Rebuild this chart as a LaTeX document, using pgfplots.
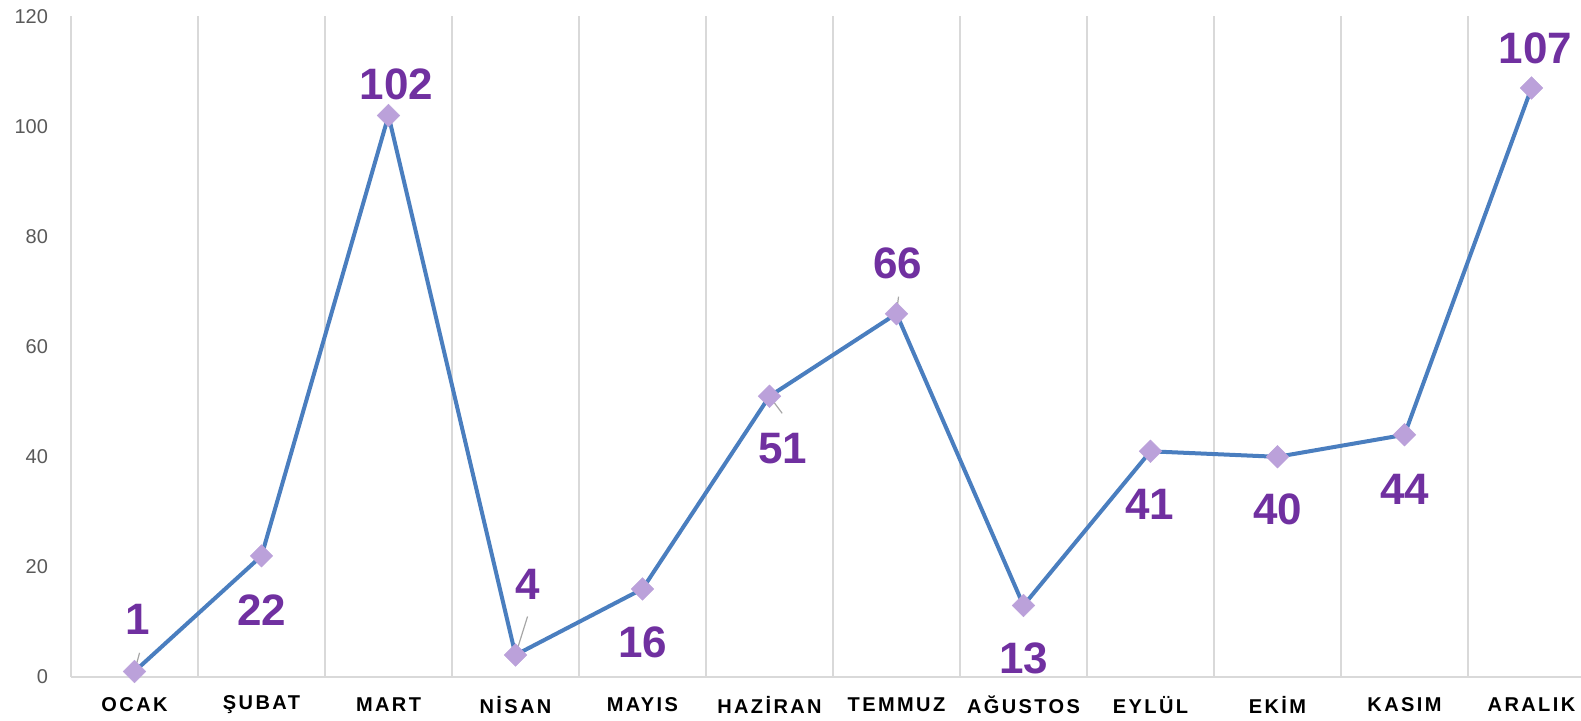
\documentclass[border=0pt]{standalone}
\usepackage{pgfplots}
\pgfplotsset{compat=1.18}
\usepackage{pgfplotstable}
\usepackage{fontspec}
\setmainfont{Liberation Sans}
\newfontfamily\catfont[LetterSpace=12]{Liberation Sans}
\definecolor{lineblue}{HTML}{4A7EBF}
\definecolor{lblpurple}{HTML}{7030A0}
\definecolor{mk}{HTML}{BBA1DA}
\definecolor{gridgray}{HTML}{D9D9D9}
\definecolor{tickgray}{HTML}{595959}
\definecolor{leader}{HTML}{A6A6A6}

\pgfplotstableread{
x y dx dy
0 1 1.5 26
1 22 0 -27
2 102 4 15.5
3 4 6 35.5
4 16 0 -26.5
5 51 6.5 -26
6 66 0.5 25
7 13 0 -26.5
8 41 -0.5 -26.5
9 40 0 -26.5
10 44 0 -27.5
11 107 2 20
}\data

\begin{document}
\begin{tikzpicture}
\begin{axis}[name=ax, at={(0,0)}, anchor=south west,
  scale only axis, width=755pt, height=330.25pt,
  xmin=-0.5, xmax=11.39, ymin=0, ymax=120,
  clip=false,
  axis x line*=bottom, axis y line*=left,
  x axis line style={gridgray, line width=0.75pt},
  y axis line style={draw=none},
  xtick={0,...,11},
  xticklabels={OCAK,ŞUBAT,MART,NİSAN,MAYIS,HAZİRAN,TEMMUZ,AĞUSTOS,EYLÜL,EKİM,KASIM,ARALIK},
  minor xtick={-0.5,0.5,...,10.5},
  xminorgrids,
  minor grid style={gridgray, line width=0.75pt},
  major tick length=0, minor tick length=0,
  ytick={0,20,...,120},
  yticklabel style={font=\fontsize{10}{12}\selectfont, text=tickgray, anchor=east, xshift=-8pt},
  xticklabel style={font=\catfont\bfseries\fontsize{10}{12}\selectfont, anchor=center, yshift=-14pt},
  /pgf/number format/assume math mode=true,
]
\addplot[only marks, mark=square*, mark size=4pt, color=mk,
  mark options={rotate=45, draw=mk, fill=mk, line width=0.2pt}]
  table[x=x, y=y]{\data};
\addplot[lineblue, line width=2pt, no marks,
  nodes near coords, point meta=explicit,
  visualization depends on={\thisrow{dx}\as\dx},
  visualization depends on={\thisrow{dy}\as\dy},
  every node near coord/.append style={anchor=center, xshift=\dx pt, yshift=\dy pt,
    font=\bfseries\fontsize{22}{26}\selectfont, text=lblpurple}]
  table[x=x, y=y, meta=y]{\data};
\draw[leader, line width=0.6pt] (axis cs:0,1) -- (axis cs:0.04,4.4);
\draw[leader, line width=0.6pt] (axis cs:3,4) -- (axis cs:3.095,11);
\draw[leader, line width=0.6pt] (axis cs:5,51) -- (axis cs:5.1,47.9);
\draw[leader, line width=0.6pt] (axis cs:6,66) -- (axis cs:6.016,69.1);
\end{axis}
\pgfresetboundingbox
\path[use as bounding box] ([shift={(-35.5pt,-22pt)}]ax.south west) rectangle ++(790.5pt,360.5pt);
\end{tikzpicture}
\end{document}
